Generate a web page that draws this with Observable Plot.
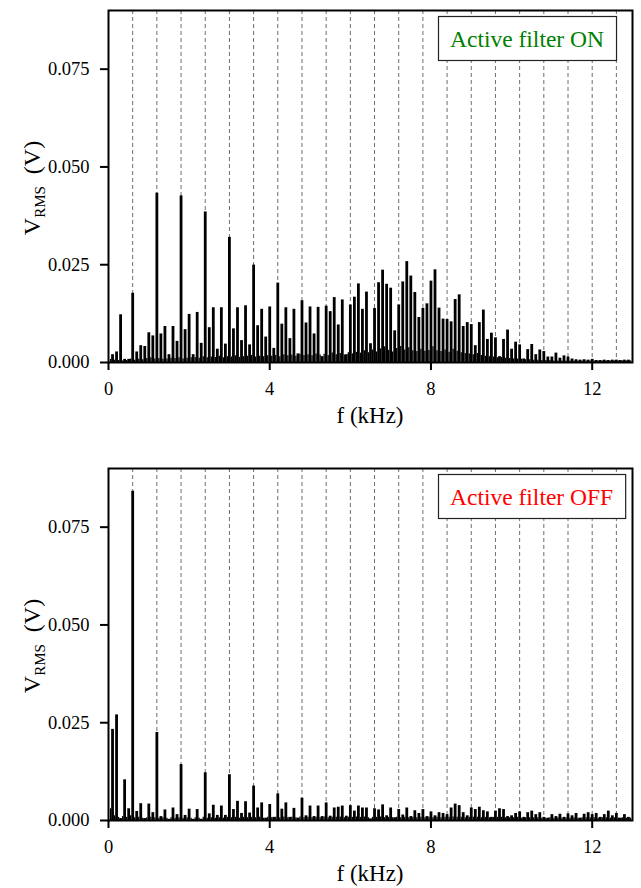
<!DOCTYPE html>
<html>
<head>
<meta charset="utf-8">
<script src="https://cdn.jsdelivr.net/npm/d3@7"></script>
<script src="https://cdn.jsdelivr.net/npm/@observablehq/plot@0.6"></script>
<style>
  body { margin: 0; background: #fff; }
  #chart svg { display: block; }
  #chart svg text { font-family: "Liberation Serif", "Times New Roman", serif !important; }
</style>
</head>
<body>
<div id="chart"></div>
<script>
// ---------------- data ----------------
const harmonicKHz = [
  0.1,0.2,0.3,0.4,0.5,0.6,0.7,0.8,0.9,1.0,1.1,1.2,1.3,1.4,1.5,1.6,1.7,1.8,1.9,2.0,
  2.1,2.2,2.3,2.4,2.5,2.6,2.7,2.8,2.9,3.0,3.1,3.2,3.3,3.4,3.5,3.6,3.7,3.8,3.9,4.0,
  4.1,4.2,4.3,4.4,4.5,4.6,4.7,4.8,4.9,5.0,5.1,5.2,5.3,5.4,5.5,5.6,5.7,5.8,5.9,6.0,
  6.1,6.2,6.3,6.4,6.5,6.6,6.7,6.8,6.9,7.0,7.1,7.2,7.3,7.4,7.5,7.6,7.7,7.8,7.9,8.0,
  8.1,8.2,8.3,8.4,8.5,8.6,8.7,8.8,8.9,9.0,9.1,9.2,9.3,9.4,9.5,9.6,9.7,9.8,9.9,10.0,
  10.1,10.2,10.3,10.4,10.5,10.6,10.7,10.8,10.9,11.0,11.1,11.2,11.3,11.4,11.5,11.6,11.7,11.8,11.9,12.0,
  12.1,12.2,12.3,12.4,12.5,12.6,12.7,12.8,12.9
];

// Active filter ON (V RMS)
const vrmsOn = [
  0.0020,0.0027,0.0122,0.0008,0.0008,0.0177,0.0027,0.0043,0.0041,0.0076,
  0.0068,0.0433,0.0073,0.0092,0.0020,0.0092,0.0054,0.0426,0.0084,0.0123,
  0.0020,0.0128,0.0049,0.0385,0.0089,0.0140,0.0034,0.0140,0.0047,0.0320,
  0.0086,0.0140,0.0056,0.0145,0.0045,0.0249,0.0094,0.0136,0.0065,0.0142,
  0.0036,0.0203,0.0098,0.0140,0.0061,0.0136,0.0022,0.0158,0.0101,0.0142,
  0.0073,0.0141,0.0015,0.0144,0.0130,0.0166,0.0096,0.0160,0.0020,0.0147,
  0.0167,0.0201,0.0136,0.0180,0.0048,0.0138,0.0204,0.0236,0.0200,0.0190,
  0.0081,0.0147,0.0206,0.0258,0.0221,0.0179,0.0115,0.0138,0.0150,0.0208,
  0.0237,0.0139,0.0111,0.0110,0.0104,0.0161,0.0173,0.0092,0.0102,0.0097,
  0.0043,0.0102,0.0134,0.0059,0.0075,0.0063,0.0015,0.0059,0.0083,0.0034,
  0.0052,0.0045,0.0009,0.0033,0.0046,0.0020,0.0032,0.0028,0.0014,0.0014,
  0.0024,0.0011,0.0017,0.0014,0.0009,0.0007,0.0006,0.0007,0.0006,0.0008,
  0.0005,0.0005,0.0006,0.0005,0.0006,0.0006,0.0005,0.0006,0.0006
];

// Active filter OFF (V RMS)
const vrmsOff = [
  0.0233,0.0270,0.0005,0.0104,0.0030,0.0842,0.0023,0.0043,0.0005,0.0042,
  0.0020,0.0225,0.0010,0.0027,0.0003,0.0032,0.0015,0.0143,0.0013,0.0029,
  0.0003,0.0028,0.0003,0.0122,0.0017,0.0039,0.0013,0.0037,0.0013,0.0117,
  0.0028,0.0049,0.0018,0.0048,0.0019,0.0088,0.0032,0.0045,0.0006,0.0041,
  0.0008,0.0068,0.0029,0.0045,0.0008,0.0031,0.0006,0.0057,0.0012,0.0037,
  0.0010,0.0037,0.0010,0.0045,0.0011,0.0032,0.0034,0.0037,0.0011,0.0038,
  0.0024,0.0037,0.0032,0.0032,0.0004,0.0030,0.0027,0.0040,0.0012,0.0032,
  0.0007,0.0028,0.0014,0.0032,0.0010,0.0025,0.0018,0.0028,0.0010,0.0022,
  0.0012,0.0020,0.0018,0.0015,0.0032,0.0042,0.0038,0.0020,0.0012,0.0032,
  0.0028,0.0034,0.0025,0.0022,0.0008,0.0024,0.0030,0.0028,0.0010,0.0012,
  0.0018,0.0022,0.0008,0.0020,0.0024,0.0015,0.0020,0.0008,0.0006,0.0015,
  0.0010,0.0016,0.0008,0.0017,0.0012,0.0018,0.0006,0.0016,0.0020,0.0015,
  0.0018,0.0008,0.0015,0.0024,0.0012,0.0018,0.0006,0.0015,0.0008
];

// small inter-harmonic components between the main lines
const interKHz = [
  0.05,0.15,0.25,0.35,0.45,0.55,0.65,0.75,0.85,0.95,1.05,1.15,1.25,1.35,1.45,1.55,1.65,1.75,1.85,1.95,
  2.05,2.15,2.25,2.35,2.45,2.55,2.65,2.75,2.85,2.95,3.05,3.15,3.25,3.35,3.45,3.55,3.65,3.75,3.85,3.95,
  4.05,4.15,4.25,4.35,4.45,4.55,4.65,4.75,4.85,4.95,5.05,5.15,5.25,5.35,5.45,5.55,5.65,5.75,5.85,5.95,
  6.05,6.15,6.25,6.35,6.45,6.55,6.65,6.75,6.85,6.95,7.05,7.15,7.25,7.35,7.45,7.55,7.65,7.75,7.85,7.95,
  8.05,8.15,8.25,8.35,8.45,8.55,8.65,8.75,8.85,8.95,9.05,9.15,9.25,9.35,9.45,9.55,9.65,9.75,9.85,9.95,
  10.05,10.15,10.25,10.35,10.45,10.55,10.65,10.75,10.85,10.95,11.05,11.15,11.25,11.35,11.45,11.55,11.65,11.75,11.85,11.95,
  12.05,12.15,12.25,12.35,12.45,12.55,12.65,12.75,12.85,12.95
];
const interOn = [
  0.0008,0.0006,0.0005,0.0004,0.0005,0.0009,0.0006,0.0008,0.0007,0.0010,
  0.0012,0.0009,0.0010,0.0008,0.0009,0.0011,0.0010,0.0012,0.0009,0.0011,
  0.0012,0.0013,0.0011,0.0015,0.0012,0.0014,0.0013,0.0016,0.0012,0.0015,
  0.0014,0.0017,0.0013,0.0015,0.0016,0.0018,0.0014,0.0016,0.0015,0.0017,
  0.0016,0.0018,0.0015,0.0020,0.0017,0.0019,0.0016,0.0021,0.0018,0.0020,
  0.0017,0.0022,0.0019,0.0021,0.0018,0.0024,0.0020,0.0023,0.0019,0.0025,
  0.0022,0.0026,0.0024,0.0030,0.0025,0.0032,0.0027,0.0035,0.0040,0.0031,
  0.0027,0.0036,0.0041,0.0032,0.0038,0.0030,0.0028,0.0034,0.0029,0.0031,
  0.0040,0.0030,0.0028,0.0032,0.0026,0.0034,0.0029,0.0025,0.0023,0.0022,
  0.0020,0.0023,0.0018,0.0016,0.0015,0.0014,0.0012,0.0013,0.0011,0.0010,
  0.0009,0.0009,0.0008,0.0007,0.0007,0.0006,0.0006,0.0005,0.0005,0.0005,
  0.0004,0.0004,0.0004,0.0004,0.0004,0.0004,0.0004,0.0004,0.0004,0.0004,
  0.0004,0.0004,0.0004,0.0004,0.0004,0.0004,0.0004,0.0004,0.0004,0.0004
];
const interOff = [
  0.0030,0.0012,0.0008,0.0010,0.0008,0.0012,0.0007,0.0008,0.0006,0.0007,
  0.0008,0.0007,0.0006,0.0007,0.0006,0.0007,0.0006,0.0007,0.0006,0.0007,
  0.0006,0.0007,0.0006,0.0008,0.0006,0.0007,0.0006,0.0007,0.0006,0.0008,
  0.0007,0.0008,0.0006,0.0008,0.0007,0.0008,0.0007,0.0008,0.0006,0.0008,
  0.0007,0.0008,0.0007,0.0009,0.0007,0.0008,0.0007,0.0009,0.0007,0.0008,
  0.0007,0.0008,0.0007,0.0009,0.0007,0.0008,0.0008,0.0009,0.0007,0.0008,
  0.0008,0.0009,0.0008,0.0009,0.0007,0.0008,0.0008,0.0009,0.0007,0.0008,
  0.0007,0.0008,0.0007,0.0008,0.0007,0.0008,0.0007,0.0008,0.0007,0.0008,
  0.0007,0.0008,0.0007,0.0008,0.0008,0.0009,0.0008,0.0008,0.0007,0.0008,
  0.0008,0.0008,0.0007,0.0008,0.0007,0.0008,0.0008,0.0008,0.0007,0.0007,
  0.0007,0.0008,0.0006,0.0007,0.0007,0.0007,0.0007,0.0006,0.0006,0.0007,
  0.0006,0.0007,0.0006,0.0007,0.0006,0.0007,0.0006,0.0007,0.0007,0.0007,
  0.0007,0.0006,0.0007,0.0007,0.0006,0.0007,0.0006,0.0007,0.0006,0.0006
];

const gridKHz = [0.6,1.2,1.8,2.4,3.0,3.6,4.2,4.8,5.4,6.0,6.6,7.2,7.8,8.4,9.0,9.6,10.2,10.8,11.4,12.0,12.6];
const xTickValues = [0, 4, 8, 12];
const yTickValues = [0, 0.025, 0.05, 0.075];
const panelNames = ["Active filter ON", "Active filter OFF"];
const panelColors = ["#008000", "#ff0000"];
const xLabel = "f (kHz)";

// ---------------- drawing ----------------
const FONT = "'Liberation Serif', 'Times New Roman', serif";
const W = 641, ML = 108, MR = 9;

function panel(values, interValues, name, color, marginTop, marginBottom) {
  const height = marginTop + 352 + marginBottom;
  const main = harmonicKHz.map((f, i) => ({f, v: values[i]}));
  const inter = interKHz.map((f, i) => ({f, v: interValues[i]}));
  const plot = Plot.plot({
    width: W, height,
    marginLeft: ML, marginRight: MR, marginTop, marginBottom,
    style: {fontFamily: FONT, fontSize: "18px", color: "black", background: "white"},
    x: {domain: [0, 13], label: null},
    y: {domain: [0, 0.09], label: null},
    marks: [
      Plot.ruleX(gridKHz, {x: d => d, stroke: "#6e6e6e", strokeWidth: 1, strokeDasharray: "4,3"}),
      Plot.ruleX(inter, {x: "f", y1: 0, y2: "v", stroke: "black", strokeWidth: 1.3}),
      Plot.ruleX(main, {x: "f", y1: 0, y2: "v", stroke: "black", strokeWidth: 2.8}),
      Plot.axisX({ticks: xTickValues, tickSize: 8, tickPadding: 11, fontSize: 18.5, strokeWidth: 2, label: null}),
      Plot.axisY({ticks: yTickValues, tickFormat: d3.format(".3f"), tickSize: 8, tickPadding: 11, fontSize: 18.5, strokeWidth: 2, label: null}),
      Plot.frame({stroke: "black", strokeWidth: 2})
    ]
  });
  document.getElementById("chart").appendChild(plot);
  const svg = d3.select(plot);
  svg.selectAll("text").style("font-family", FONT);

  // y axis label  V_RMS (V)
  const cy = marginTop + 178;
  const yl = svg.append("text")
    .attr("transform", `translate(40,${cy}) rotate(-90)`)
    .attr("text-anchor", "middle")
    .style("font-family", FONT).style("font-size", "24px").attr("fill", "black");
  yl.append("tspan").text("V");
  yl.append("tspan").style("font-size", "15px").attr("dy", 5).text("RMS");
  yl.append("tspan").attr("dy", -5).attr("dx", 12).text("(V)");

  // x axis label
  svg.append("text")
    .attr("x", (ML + W - MR) / 2).attr("y", marginTop + 352 + 61)
    .attr("text-anchor", "middle")
    .style("font-family", FONT).style("font-size", "23px").attr("fill", "black")
    .text(xLabel);

  // legend box
  const g = svg.append("g");
  const boxTop = marginTop + 6.5;
  const t = g.append("text")
    .attr("x", 450).attr("y", boxTop + 22)
    .attr("text-anchor", "start")
    .attr("dominant-baseline", "central")
    .style("font-family", FONT).style("font-size", "23.5px").attr("fill", color)
    .text(name);
  const tw = t.node().getComputedTextLength();
  g.insert("rect", "text")
    .attr("x", 438.5).attr("y", boxTop)
    .attr("width", tw + 24).attr("height", 44)
    .attr("fill", "white").attr("stroke", "#222").attr("stroke-width", 1.2);
}

panel(vrmsOn, interOn, panelNames[0], panelColors[0], 10, 70);
panel(vrmsOff, interOff, panelNames[1], panelColors[1], 36, 68);
</script>
</body>
</html>
